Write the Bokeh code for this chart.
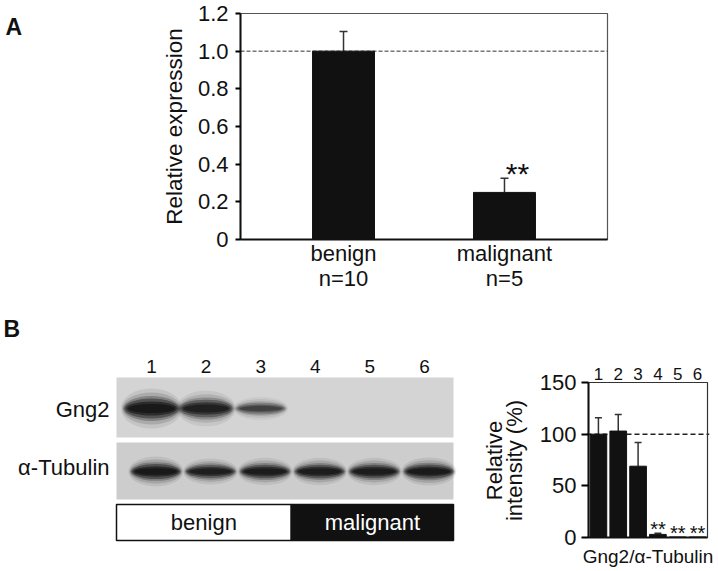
import math
from bokeh.plotting import figure
from bokeh.models import (Range1d, FixedTicker, Span, Whisker, TeeHead,
                          ColumnDataSource, PrintfTickFormatter)
from bokeh.layouts import column, row
from bokeh.embed import file_html
from bokeh.resources import INLINE

FONT = "Liberation Sans"

# ---------------- data ----------------
# Panel A
groups = ["benign", "malignant"]
group_n = ["n=10", "n=5"]
expr_mean = [1.0, 0.25]
expr_err = [0.105, 0.075]
expr_sig = ["", "**"]
expr_ticks = [0, 0.2, 0.4, 0.6, 0.8, 1.0, 1.2]
expr_tick_labels = ["0", "0.2", "0.4", "0.6", "0.8", "1.0", "1.2"]

# Panel B
lanes = [1, 2, 3, 4, 5, 6]
lane_groups = ["benign", "malignant"]
lanes_per_group = [3, 3]
blot_rows = ["Gng2", "α-Tubulin"]
gng2_signal = [1.0, 0.85, 0.45, 0.0, 0.0, 0.0]
tubulin_signal = [1.0, 0.78, 0.85, 0.85, 0.85, 0.9]
rel_intensity = [100, 103, 69, 3, 0.5, 0.5]
rel_intensity_err = [16, 16, 23, 1, 0, 0]
rel_sig = ["", "", "", "**", "**", "**"]
intensity_ticks = [0, 50, 100, 150]

# ---------------- layout constants (page pixels) ----------------
W, H = 716, 569
HA = 305                 # height of panel A row
HB = H - HA              # height of panel B row
INK = "#111111"
FS = "22px"


def base_fig(**kw):
    p = figure(output_backend="svg", toolbar_location=None, **kw)
    p.grid.visible = False
    p.background_fill_color = "white"
    p.border_fill_color = "white"
    return p


def txt(p, x, y, text, size, align="center", baseline="middle", color=INK,
        style="normal", angle=0.0, **kw):
    p.text(x=x, y=y, text=text, text_align=align, text_baseline=baseline,
           text_font_size=size, text_font={"value": FONT}, text_color=color,
           text_font_style=style, angle=angle, **kw)

# ---------------- Panel A ----------------
LET_W = 30
A_FL, A_FR, A_FT, A_FB = 240, 607, 13, 239      # frame edges on the page
pA = base_fig(width=W - LET_W, height=HA,
              x_range=Range1d(1 - 0.64, len(groups) + 0.64), y_range=Range1d(0, 1.2),
              min_border_left=A_FL - LET_W, min_border_right=W - A_FR,
              min_border_top=A_FT, min_border_bottom=HA - A_FB)
pA.outline_line_color = "#555555"
pA.outline_line_width = 1.2
xa = [i + 1 for i in range(len(groups))]

pA.xaxis.ticker = FixedTicker(ticks=xa)
pA.xaxis.major_label_overrides = {x: f"{g}\n{n}" for x, g, n in zip(xa, groups, group_n)}
pA.xaxis.major_tick_line_color = None
pA.xaxis.major_tick_out = 0
pA.xaxis.minor_tick_line_color = None
pA.xaxis.major_label_standoff = 1
pA.xaxis.major_label_text_line_height = 1.0
pA.xaxis.axis_line_width = 2
pA.xaxis.axis_line_color = INK

pA.yaxis.ticker = FixedTicker(ticks=expr_ticks)
pA.yaxis.formatter = PrintfTickFormatter(format="%.1f")
pA.yaxis.major_label_overrides = dict(zip(expr_ticks, expr_tick_labels))
pA.yaxis.major_tick_out = 5
pA.yaxis.major_tick_in = 0
pA.yaxis.major_tick_line_width = 2
pA.yaxis.minor_tick_line_color = None
pA.yaxis.axis_line_width = 2
pA.yaxis.axis_line_color = INK
pA.yaxis.major_label_standoff = 7
pA.yaxis.axis_label = "Relative expression"
pA.yaxis.axis_label_standoff = 8
for ax in (pA.xaxis, pA.yaxis):
    ax.major_label_text_font = FONT
    ax.major_label_text_font_size = FS
    ax.major_label_text_color = INK
    ax.axis_label_text_font = FONT
    ax.axis_label_text_font_size = "22.5px"
    ax.axis_label_text_font_style = "normal"
    ax.axis_label_text_color = INK

pA.add_layout(Span(location=1.0, dimension="width", line_color="#333333",
                   line_width=1, line_dash="4 2", level="underlay"))
pA.vbar(x=xa, top=expr_mean, width=0.385, fill_color=INK, line_color=INK)
srcA = ColumnDataSource(dict(x=xa, lower=expr_mean,
                             upper=[m + e for m, e in zip(expr_mean, expr_err)]))
pA.add_layout(Whisker(source=srcA, base="x", lower="lower", upper="upper",
                      dimension="height", line_color="#333333", line_width=1.5,
                      lower_head=None,
                      upper_head=TeeHead(size=8, line_color="#333333", line_width=1.5)))
sigA = [(x, m + e, s) for x, m, e, s in zip(xa, expr_mean, expr_err, expr_sig) if s]
txt(pA, [a[0] for a in sigA], [a[1] for a in sigA], [a[2] for a in sigA], "30px",
    x_offset=13, y_offset=-5)

# panel letter "A" (own narrow figure; y in page pixels, negated)
pLA = base_fig(width=LET_W, height=HA, x_range=Range1d(0, LET_W),
               y_range=Range1d(-A_FB, -A_FT), x_axis_location=None,
               y_axis_location=None, min_border=0)
pLA.outline_line_color = None
txt(pLA, [5], [-A_FT], ["A"], "23px", align="left", baseline="top", style="bold")

# ---------------- Panel B, blot (x in lanes, y = -page pixel) ----------------
B1W = 530
PITCH = 54.6
LANE1 = 151
F_TOP, F_BOT = 313, 542          # frame (shared by both plots of the row)
bx0 = 1 - LANE1 / PITCH
pB1 = base_fig(width=B1W, height=HB, x_range=Range1d(bx0, bx0 + B1W / PITCH),
               y_range=Range1d(-F_BOT, -F_TOP), x_axis_location=None,
               y_axis_location=None, min_border_left=0, min_border_right=0,
               min_border_top=F_TOP - HA, min_border_bottom=H - F_BOT)
pB1.outline_line_color = None


def X(px):
    return bx0 + px / PITCH


def Y(py):
    return -py


blot_left, blot_right = X(116), X(453)
row_boxes = [(377, 437, "#d4d4d4"), (442, 499, "#cdcdcd")]
for (t, b, c) in row_boxes:
    pB1.quad(left=[blot_left], right=[blot_right], top=[Y(t)], bottom=[Y(b)],
             fill_color=c, line_color=None)

layers = [(1.12, 2.0, 0.08), (1.08, 1.6, 0.14), (1.04, 1.25, 0.25),
          (1.0, 1.0, 0.4), (0.93, 0.7, 0.55), (0.85, 0.45, 0.6)]


def draw_bands(xs, yc, ws, hs, alphas):
    for fw, fh, fa in layers:
        pB1.ellipse(x=xs, y=[yc] * len(xs), width=[w * fw for w in ws],
                    height=[h * fh for h in hs], fill_color="#0d0d0d",
                    fill_alpha=[a * fa for a in alphas], line_color=None)


g_idx = [i for i, s in enumerate(gng2_signal) if s > 0]
draw_bands([lanes[i] for i in g_idx], Y(408),
           [0.82 + 0.18 * gng2_signal[i] for i in g_idx],
           [5 + 15 * gng2_signal[i] for i in g_idx],
           [0.2 + 0.8 * gng2_signal[i] for i in g_idx])
draw_bands([l + 0.08 for l in lanes], Y(471),
           [0.9] * len(lanes),
           [6 + 9 * s for s in tubulin_signal],
           [0.6 + 0.4 * s for s in tubulin_signal])

txt(pB1, lanes, [Y(366)] * len(lanes), [str(l) for l in lanes], "19px")
txt(pB1, [X(109)] * 2, [Y(409), Y(467)], blot_rows, FS, align="right")

bounds = [0.5]
for n in lanes_per_group:
    bounds.append(bounds[-1] + n)
edges = [blot_left] + [b + 0.06 for b in bounds[1:-1]] + [blot_right]
fills = ["white", INK]
tcols = [INK, "white"]
for i, g in enumerate(lane_groups):
    pB1.quad(left=[edges[i]], right=[edges[i + 1]], top=[Y(504)], bottom=[Y(540)],
             fill_color=fills[i], line_color=INK, line_width=1.5)
    txt(pB1, [(edges[i] + edges[i + 1]) / 2], [Y(522)], [g], FS, color=tcols[i])
txt(pB1, [X(3)], [Y(315)], ["B"], "23px", align="left", baseline="top", style="bold")

# y-axis title of the quantification (two lines, rotated)
txt(pB1, [X(494), X(514)], [Y(460)] * 2, ["Relative", "intensity (%)"], FS,
    angle=math.pi / 2)

# ---------------- Panel B, quantification ----------------
C_L, C_R, C_T, C_B = 588, 707, 382, 537      # chart box on the page
kx = (C_R - C_L) / 6.0
ky = (C_B - C_T) / 150.0
FL, FR = C_L - 2, C_R + 2
B2W = W - B1W
pB2 = base_fig(width=B2W, height=HB,
               x_range=Range1d(0.5 - 2 / kx, 6.5 + 2 / kx),
               y_range=Range1d(-(F_BOT - C_B) / ky, 150 + (C_T - F_TOP) / ky),
               min_border_left=FL - B1W, min_border_right=W - FR,
               min_border_top=F_TOP - HA, min_border_bottom=H - F_BOT)
pB2.outline_line_color = None

pB2.xaxis.ticker = FixedTicker(ticks=[])
pB2.xaxis.axis_line_color = None
pB2.xaxis.major_tick_line_color = None
pB2.xaxis.minor_tick_line_color = None
pB2.xaxis.major_tick_out = 0
pB2.xaxis.axis_label = "Gng2/α-Tubulin"
pB2.xaxis.axis_label_standoff = 3
pB2.xaxis.axis_label_text_font = FONT
pB2.xaxis.axis_label_text_font_size = "19px"
pB2.xaxis.axis_label_text_font_style = "normal"
pB2.xaxis.axis_label_text_color = INK

pB2.yaxis.ticker = FixedTicker(ticks=intensity_ticks)
pB2.yaxis.axis_line_color = None
pB2.yaxis.major_tick_out = 5
pB2.yaxis.major_tick_in = 2
pB2.yaxis.major_tick_line_width = 2
pB2.yaxis.minor_tick_line_color = None
pB2.yaxis.major_label_standoff = 5
pB2.yaxis.major_label_text_font = FONT
pB2.yaxis.major_label_text_font_size = FS
pB2.yaxis.major_label_text_color = INK

pB2.add_layout(Span(location=100, dimension="width", line_color="#222222",
                    line_width=1.5, line_dash="5 3", level="underlay"))
# chart box: thin outline, heavier left/bottom axis lines
pB2.quad(left=[0.5], right=[6.5], bottom=[0], top=[150], fill_color=None,
         line_color="#333333", line_width=1.2)
pB2.vbar(x=lanes, top=rel_intensity, width=0.84, fill_color=INK, line_color=INK)
pB2.segment(x0=[0.5, 0.5], y0=[0, 0], x1=[0.5, 6.5], y1=[150, 0],
            line_color=INK, line_width=2)
e_idx = [i for i, e in enumerate(rel_intensity_err) if e > 0]
srcB = ColumnDataSource(dict(x=[lanes[i] for i in e_idx],
                             lower=[rel_intensity[i] for i in e_idx],
                             upper=[rel_intensity[i] + rel_intensity_err[i] for i in e_idx]))
pB2.add_layout(Whisker(source=srcB, base="x", lower="lower", upper="upper",
                       dimension="height", line_color="#333333", line_width=1.5,
                       lower_head=None,
                       upper_head=TeeHead(size=7, line_color="#333333", line_width=1.5)))
s_idx = [i for i, s in enumerate(rel_sig) if s]
txt(pB2, [lanes[i] for i in s_idx],
    [rel_intensity[i] + rel_intensity_err[i] for i in s_idx],
    [rel_sig[i] for i in s_idx], "20px", y_offset=-4)
# lane numbers above the chart
txt(pB2, lanes, [150 + 9 / ky] * len(lanes), [str(l) for l in lanes], "17px")

layout = column(row(pLA, pA), row(pB1, pB2))
open("out.html", "w").write(file_html(layout, INLINE, "Gng2 expression"))
